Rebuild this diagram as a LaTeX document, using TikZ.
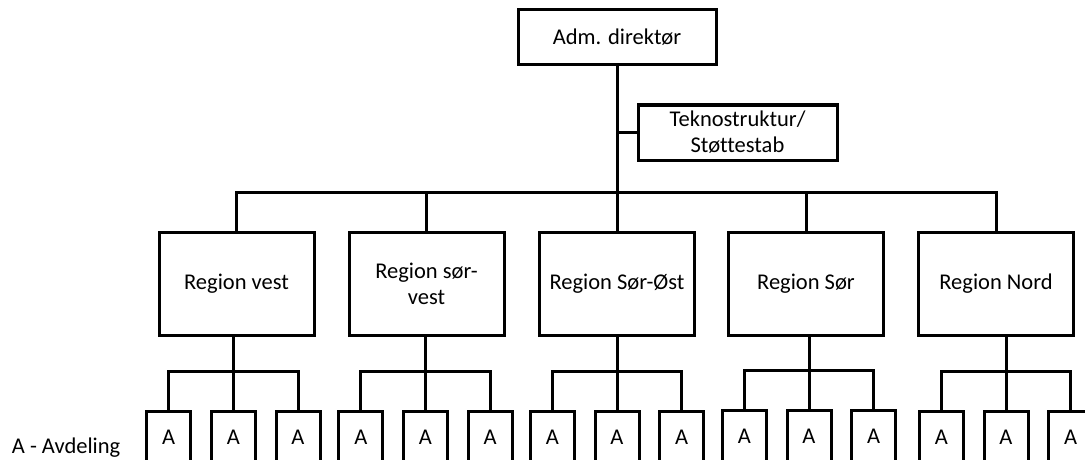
\documentclass[tikz,border=0pt]{standalone}
\usepackage{fontspec}
\setmainfont{Carlito}[Ligatures=NoCommon]
\usepackage{tikz}
\tikzset{
    box/.style={draw, line width=3pt, align=center, inner sep=2pt, font=\fontsize{22.5}{26}\selectfont},
    headbox/.style={box, minimum width=198pt, minimum height=55pt},
    region/.style={box, minimum width=155pt, minimum height=103pt},
    abox/.style={box, minimum width=44pt, minimum height=52pt},
    link/.style={line width=3pt}
}

\begin{document}
\begin{tikzpicture}[x=1pt, y=-1pt]
    \useasboundingbox (0,0) rectangle (1085,460);
    \clip (0,0) rectangle (1085,460);

    \node[headbox] at (617,37.5) (adm){Adm. direktør};
    \node[headbox, minimum width=199pt] at (737.5,132.5) (stab){Teknostruktur/\\Støttestab};

    \node[region] at (236.5,283.5) (vest){Region vest};
    \node[region] at (426.5,283.5) (sorvest){Region sør-\\vest};
    \node[region] at (617,283.5) (sorost){Region Sør-Øst};
    \node[region] at (806,283.5) (sor){Region Sør};
    \node[region] at (996,283.5) (nord){Region Nord};

    \coordinate (bar) at (617,192.5);
    \draw[link] (adm.south) -- (sorost.north);
    \draw[link] (stab.west) -- (stab.west -| adm.south);
    \draw[link] (vest.north) |- (bar) -| (nord.north);
    \draw[link] (sorvest.north) -- (sorvest.north |- bar);
    \draw[link] (sor.north) -- (sor.north |- bar);

    \node[abox] at (233.3,437.5) (av2){A};
    \node[abox] at ([xshift=-64.7pt]av2) (av1){A};
    \node[abox] at ([xshift=64.7pt]av2) (av3){A};

    \node[abox] at (425.5,437.5) (asv2){A};
    \node[abox] at ([xshift=-64.7pt]asv2) (asv1){A};
    \node[abox] at ([xshift=64.7pt]asv2) (asv3){A};

    \node[abox] at (617,437.5) (aso2){A};
    \node[abox] at ([xshift=-64.7pt]aso2) (aso1){A};
    \node[abox] at ([xshift=64.7pt]aso2) (aso3){A};

    \node[abox] at (809,436.5) (as2){A};
    \node[abox] at ([xshift=-64.7pt]as2) (as1){A};
    \node[abox] at ([xshift=64.7pt]as2) (as3){A};

    \node[abox] at (1006,437.5) (an2){A};
    \node[abox] at ([xshift=-64.7pt]an2) (an1){A};
    \node[abox] at ([xshift=64.7pt]an2) (an3){A};

    \coordinate (sv) at (233.3,371.5);
    \coordinate (ssv) at (425.5,371.5);
    \coordinate (sso) at (617,371.5);
    \coordinate (ss) at (809,370.5);
    \coordinate (sn) at (1006,371.5);

    \draw[link] (vest.south -| av2.north) -- (av2.north);
    \draw[link] (av1.north) |- (sv) -| (av3.north);
    \draw[link] (sorvest.south -| asv2.north) -- (asv2.north);
    \draw[link] (asv1.north) |- (ssv) -| (asv3.north);
    \draw[link] (sorost.south -| aso2.north) -- (aso2.north);
    \draw[link] (aso1.north) |- (sso) -| (aso3.north);
    \draw[link] (sor.south -| as2.north) -- (as2.north);
    \draw[link] (as1.north) |- (ss) -| (as3.north);
    \draw[link] (nord.south -| an2.north) -- (an2.north);
    \draw[link] (an1.north) |- (sn) -| (an3.north);

    \node[anchor=base west, inner sep=0pt, font=\fontsize{22.5}{26}\selectfont] at (11.7,453) (legend){A - Avdeling};
\end{tikzpicture}
\end{document}
